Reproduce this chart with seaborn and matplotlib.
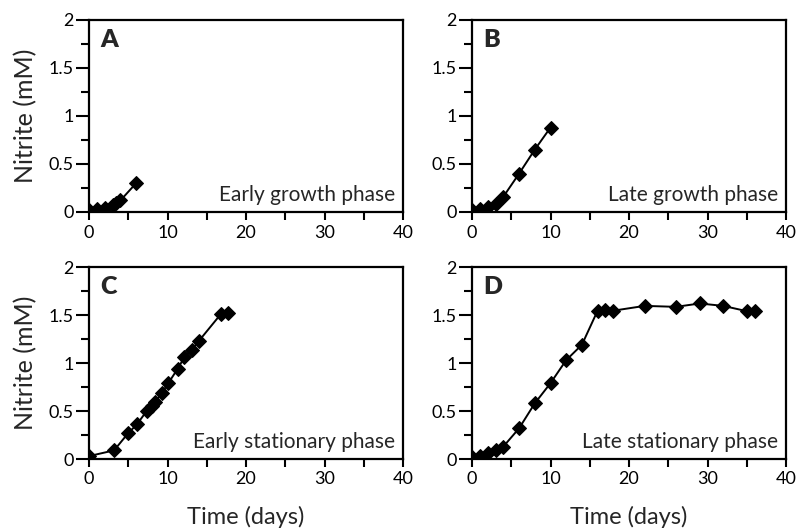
import matplotlib
matplotlib.use("Agg")
import matplotlib.pyplot as plt
import seaborn as sns
import pandas as pd
from matplotlib.ticker import MultipleLocator

# ---- data ----
a_days = [0, 1, 2, 3, 3.5, 4, 6]
a_nitrite = [0.02, 0.03, 0.04, 0.07, 0.09, 0.12, 0.30]

b_days = [0, 1, 2, 3, 4, 6, 8, 10]
b_nitrite = [0.02, 0.03, 0.05, 0.08, 0.16, 0.40, 0.65, 0.88]

c_days = [0, 3.2, 5.0, 6.1, 7.35, 8.0, 8.4, 9.3, 10.1, 11.3, 12.15, 13.1, 14.0, 16.8, 17.7]
c_nitrite = [0.03, 0.09, 0.27, 0.36, 0.50, 0.55, 0.59, 0.69, 0.79, 0.94, 1.06, 1.14, 1.23, 1.51, 1.525]

d_days = [0, 1, 2, 3, 4, 6, 8, 10, 12, 14, 16, 17, 18, 22, 26, 29, 32, 35, 36]
d_nitrite = [0.02, 0.03, 0.06, 0.09, 0.13, 0.32, 0.58, 0.79, 1.03, 1.19, 1.545, 1.55, 1.545,
             1.595, 1.585, 1.62, 1.595, 1.54, 1.54]

panel_letters = ["A", "B", "C", "D"]
phase_labels = ["Early growth phase", "Late growth phase",
                "Early stationary phase", "Late stationary phase"]
x_ticks = [0, 10, 20, 30, 40]
x_ticklabels = ["0", "10", "20", "30", "40"]
y_ticks = [0, 0.5, 1, 1.5, 2]
y_ticklabels = ["0", "0.5", "1", "1.5", "2"]
x_label = "Time (days)"
y_label = "Nitrite (mM)"

sns.set_style("ticks")
plt.rcParams['font.family'] = ['Lato', 'DejaVu Sans']

fig = plt.figure(figsize=(7.96, 5.31), dpi=100)
W, H = 796, 531
def rect(l, t, r, b):
    return [l / W, (H - b) / H, (r - l) / W, (b - t) / H]

positions = [rect(89, 20, 403, 212), rect(472, 20, 786, 212),
             rect(89, 267, 403, 459), rect(472, 267, 786, 459)]
datasets = [(a_days, a_nitrite), (b_days, b_nitrite), (c_days, c_nitrite), (d_days, d_nitrite)]

for i, (pos, (xs, ys)) in enumerate(zip(positions, datasets)):
    ax = fig.add_axes(pos)
    df = pd.DataFrame({"day": xs, "nitrite": ys})
    sns.lineplot(data=df, x="day", y="nitrite", ax=ax, color="black", linewidth=1.4,
                 marker="D", markersize=7.5, markeredgecolor="black", sort=False,
                 estimator=None)
    ax.set_xlim(0, 40)
    ax.set_ylim(0, 2)
    ax.xaxis.set_minor_locator(MultipleLocator(5))
    ax.yaxis.set_minor_locator(MultipleLocator(0.25))
    ax.set_yticks(y_ticks)
    ax.set_yticklabels(y_ticklabels)
    ax.set_xticks(x_ticks)
    ax.set_xticklabels(x_ticklabels)
    ax.tick_params(axis="x", which="both", direction="out", length=6, width=1.5,
                   labelsize=13, pad=3, color="black", labelcolor="black")
    ax.tick_params(axis="y", which="major", direction="out", length=9.5, width=1.5,
                   labelsize=13, pad=1.5, color="black", labelcolor="black")
    ax.tick_params(axis="y", which="minor", direction="out", length=6, width=1.5,
                   color="black")
    for s in ax.spines.values():
        s.set_visible(True)
        s.set_linewidth(1.6)
        s.set_color("black")
    ax.set_xlabel(x_label if i >= 2 else "", fontsize=17, labelpad=13)
    ax.set_ylabel(y_label if i % 2 == 0 else "", fontsize=18, labelpad=8)
    ax.text(0.035, 0.955, panel_letters[i], transform=ax.transAxes, ha="left", va="top",
            fontsize=18, fontweight="heavy")
    ax.text(0.975, 0.035, phase_labels[i], transform=ax.transAxes, ha="right", va="bottom",
            fontsize=15)

fig.savefig("out.png", dpi=100)
